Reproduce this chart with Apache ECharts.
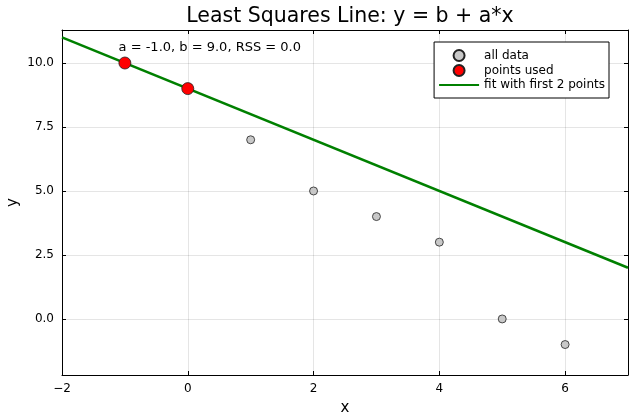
<!DOCTYPE html>
<html><head><meta charset="utf-8">
<script src="https://cdn.jsdelivr.net/npm/echarts@6/dist/echarts.min.js"></script>
<style>html,body{margin:0;padding:0;background:#fff}#c{width:640px;height:420px}</style>
</head><body><div id="c"></div>
<script>
const allX = [-1, 0, 1, 2, 3, 4, 5, 6];
const allY = [10, 9, 7, 5, 4, 3, 0, -1];
const usedX = [-1, 0];
const usedY = [10, 9];
const fitA = -1.0, fitB = 9.0;
const fitXs = [-2, 7];
const xTicks = [-2, 0, 2, 4, 6];
const yTicks = [0, 2.5, 5, 7.5, 10];
const annText = 'a = -1.0, b = 9.0, RSS = 0.0';
const annPos = [0.35, 10.6];

const F = 'DejaVu Sans';
const chart = echarts.init(document.getElementById('c'));
const fmtX = v => String(v).replace('-', '\u2212');
const fmtY = v => v.toFixed(1);
const xMin = -2, xMax = 7, yMin = -2.19, yMax = 11.29;
const gridColor = 'rgba(0,0,0,0.1)';
function xAx(pos, main) {
  return {
    type: 'value', position: pos, min: xMin, max: xMax,
    name: main ? 'x' : '', nameLocation: 'middle', nameGap: 26, nameMoveOverlap: false,
    nameTextStyle: {fontFamily: F, fontSize: 15, color: '#000'},
    axisLine: {show: true, onZero: false, lineStyle: {color: '#000', width: 1}},
    axisTick: {show: true, inside: true, length: 4, customValues: xTicks, lineStyle: {color: '#000'}},
    axisLabel: {show: main, customValues: xTicks, formatter: fmtX, fontFamily: F, fontSize: 12, color: '#000', margin: 8},
    splitLine: {show: main, lineStyle: {color: gridColor, width: 1}}
  };
}
function yAx(pos, main) {
  return {
    type: 'value', position: pos, min: yMin, max: yMax,
    name: main ? 'y' : '', nameLocation: 'middle', nameGap: 41, nameMoveOverlap: false,
    nameTextStyle: {fontFamily: F, fontSize: 15, color: '#000'},
    axisLine: {show: true, onZero: false, lineStyle: {color: '#000', width: 1}},
    axisTick: {show: true, inside: true, length: 4, customValues: yTicks, lineStyle: {color: '#000'}},
    axisLabel: {show: main, customValues: yTicks, formatter: fmtY, fontFamily: F, fontSize: 12, color: '#000', margin: 8},
    splitLine: {show: main, lineStyle: {color: gridColor, width: 1}}
  };
}
chart.setOption({
  animation: false,
  backgroundColor: '#fff',
  title: {
    text: 'Least Squares Line: y = b + a*x', left: 345, textAlign: 'center', top: 1,
    textStyle: {fontFamily: F, fontSize: 20.5, fontWeight: 'normal', color: '#000'}
  },
  grid: {left: 62, right: 12, top: 30, bottom: 45, outerBoundsMode: 'none', containLabel: false},
  xAxis: [xAx('bottom', true), xAx('top', false)],
  yAxis: [yAx('left', true), yAx('right', false)],
  legend: {
    orient: 'vertical', right: 31, top: 42,
    backgroundColor: '#fff', borderColor: '#000', borderWidth: 1,
    padding: [7, 4, 7, 5], itemGap: 2, itemWidth: 40, itemHeight: 11,
    textStyle: {fontFamily: F, fontSize: 12, color: '#000'},
    data: [
      {name: 'all data'},
      {name: 'points used'},
      {name: 'fit with first 2 points', icon: 'path://M0,0 L0.01,0 M0,4.6 L40,4.6 L40,6.4 L0,6.4 Z M0,11 L0.01,11'}
    ]
  },
  series: [
    {
      name: 'fit with first 2 points', type: 'line', symbol: 'none',
      data: fitXs.map(x => [x, fitB + fitA * x]),
      lineStyle: {color: '#008000', width: 2.5}, itemStyle: {color: '#008000'}, z: 2
    },
    {
      name: 'all data', type: 'scatter', symbol: 'circle', symbolSize: 8,
      data: allX.map((x, i) => [x, allY[i]]),
      itemStyle: {color: '#c8c8c8', borderColor: '#222', borderWidth: 0.8, opacity: 1}, z: 3
    },
    {
      name: 'points used', type: 'scatter', symbol: 'circle', symbolSize: 12,
      data: usedX.map((x, i) => [x, usedY[i]]),
      itemStyle: {color: '#ff0000', borderColor: '#222', borderWidth: 0.8, opacity: 1}, z: 4
    },
    {
      name: 'annotation', type: 'scatter', symbol: 'circle', symbolSize: 1, silent: true,
      data: [annPos],
      itemStyle: {color: 'rgba(0,0,0,0)'},
      label: {show: true, position: 'inside', formatter: annText, fontFamily: F, fontSize: 13, color: '#000', opacity: 1},
      z: 5
    }
  ]
});
</script></body></html>
